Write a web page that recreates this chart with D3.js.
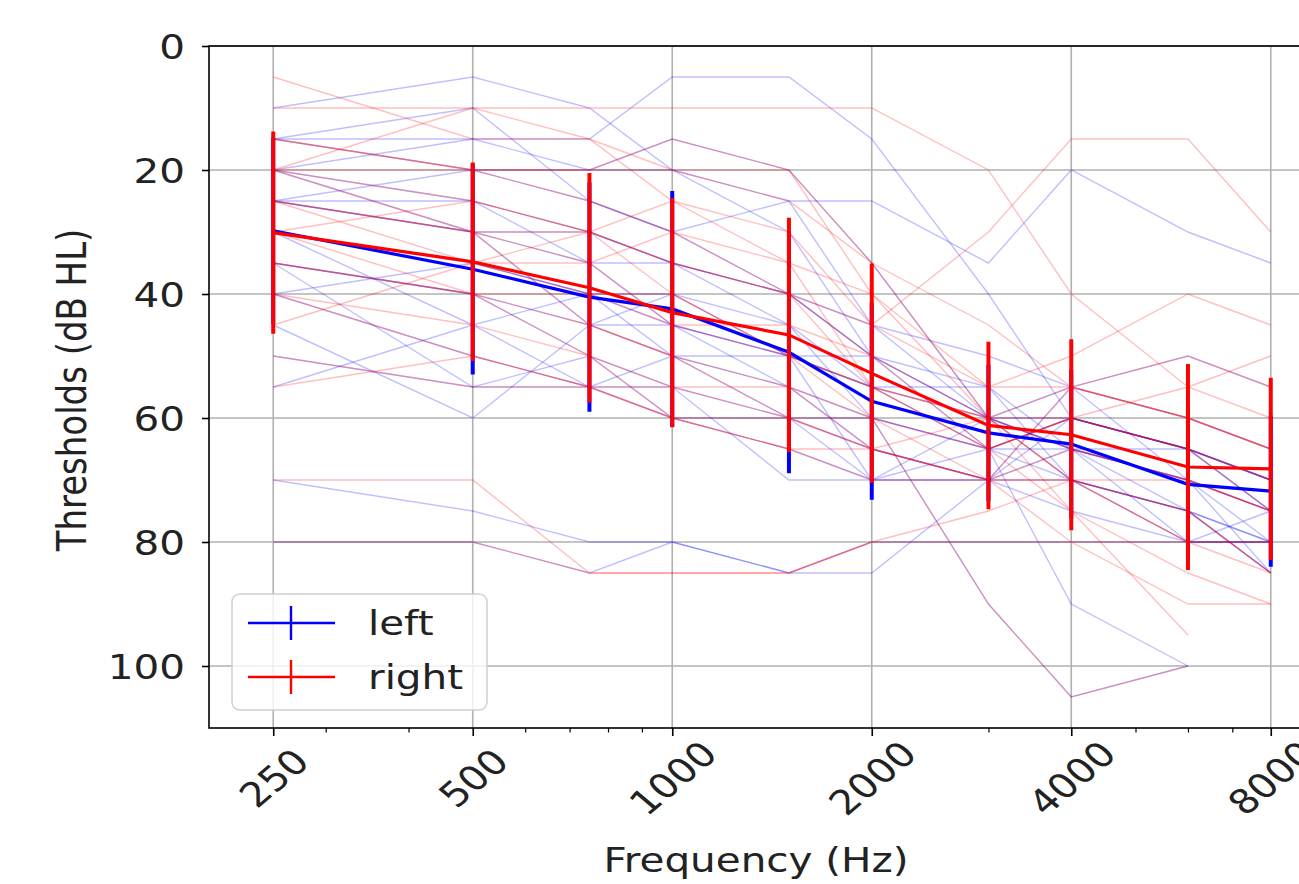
<!DOCTYPE html>
<html>
<head>
<meta charset="utf-8">
<script src="https://cdn.jsdelivr.net/npm/d3@7"></script>
<style>
  body { margin: 0; background: #fff; }
  text { font-family: "DejaVu Sans", sans-serif; fill: #222; }
</style>
</head>
<body>
<div id="chart"></div>
<script>
// audiogram: thresholds per subject, left and right ear
var freqs = [250, 500, 750, 1000, 1500, 2000, 3000, 4000, 6000, 8000];
var tickFreqs = [250, 500, 1000, 2000, 4000, 8000];
var minorFreqs = [300, 400, 600, 700, 800, 900, 3000, 5000, 6000, 7000, 9000];
var dbTicks = [0, 20, 40, 60, 80, 100];

var leftSubjects = [
  [15, 20, 20, 15, 20, 35, 60, 70, 75, 85],
  [25, 30, 35, 45, 50, 55, 60, 55, 60, 65],
  [35, 40, 50, 60, 60, 65, 70, 65, 70, 75],
  [50, 55, 55, 60, 65, 70, 70, 70, 80, 80],
  [80, 80, 85, 80, 85, 80, 80, 80, 80, 80],
  [40, 50, 55, 55, 60, 60, 90, 105, 100, null],
  [30, 35, 40, 40, 50, 55, 65, 60, 65, 70],
  [20, 30, 45, 50, 55, 65, 70, 55, 50, 55],
  [25, 30, 30, 35, 40, 50, 65, 60, 65, 75],
  [10, 5, 10, 20, 25, 25, 35, 20, 30, 35],
  [20, 15, 15, 5, 5, 15, 40, 60, 65, 75],
  [25, 25, 30, 35, 40, 45, 50, 55, 70, 80],
  [30, 45, 55, 50, 60, 70, 65, 70, 75, 85],
  [35, 55, 50, 55, 70, 70, 60, 60, 65, 70],
  [45, 60, 45, 40, 45, 55, 55, 65, 70, 85],
  [55, 45, 40, 45, 55, 60, 65, 90, 100, null],
  [70, 75, 80, 80, 85, 85, 70, 60, 65, 70],
  [20, 25, 35, 35, 45, 60, 65, 65, 75, 80],
  [40, 35, 40, 50, 50, 70, 70, 75, 80, 75],
  [15, 10, 25, 30, 40, 50, 55, 70, 75, 80],
  [35, 40, 45, 45, 50, 50, 60, 65, 80, 80],
  [15, 15, 20, 20, 30, 50, 60, 65, 70, 75],
  [25, 20, 25, 30, 25, 45, 60, 65, 65, 70]
];

var rightSubjects = [
  [15, 20, 20, 15, 20, 35, 60, 70, 75, 85],
  [25, 30, 35, 45, 50, 55, 60, 55, 60, 65],
  [35, 40, 50, 60, 60, 65, 70, 65, 70, 75],
  [50, 55, 55, 60, 65, 70, 70, 70, 80, 80],
  [80, 80, 85, 85, 85, 80, 80, 80, 80, 80],
  [40, 50, 55, 55, 60, 60, 90, 105, 100, null],
  [30, 35, 40, 40, 50, 55, 65, 60, 65, 70],
  [20, 30, 45, 50, 55, 65, 70, 55, 50, 55],
  [25, 30, 30, 35, 40, 50, 65, 60, 65, 75],
  [5, 15, 15, 20, 25, 35, 45, 55, 60, 65],
  [10, 10, 10, 10, 10, 10, 20, 40, 55, 60],
  [20, 10, 15, 25, 30, 45, 30, 15, 15, 30],
  [20, 25, 30, 35, 40, 45, 55, 50, 40, 45],
  [25, 35, 35, 30, 35, 40, 55, 55, 60, 65],
  [30, 40, 40, 45, 45, 50, 60, 65, 70, 75],
  [45, 35, 30, 40, 50, 60, 65, 75, 85, 90],
  [40, 45, 50, 55, 55, 60, 70, 70, 75, 85],
  [55, 50, 55, 60, 65, 65, 70, 80, 90, 90],
  [70, 70, 85, 85, 85, 80, 75, 70, 80, 85],
  [35, 40, 45, 50, 60, 65, 60, 75, 95, null],
  [15, 20, 25, 30, 40, 55, 65, 60, 55, 50],
  [20, 20, 20, 20, 20, 40, 60, 60, 65, 70],
  [30, 25, 30, 25, 35, 55, 60, 70, 70, 75]
];

var leftMean = [29.8, 36, 40.5, 42.4, 49.4, 57.3, 62.4, 64.2, 70.7, 71.8];
var leftSd = [15, 17, 18.5, 19, 19.5, 15.9, 11, 12, 12.5, 12.2];
var rightMean = [30.1, 34.8, 39, 43, 46.6, 52.8, 61.2, 62.7, 67.9, 68.2];
var rightSd = [16.3, 16, 18.5, 18.5, 18.9, 17.7, 13.5, 15.4, 16.6, 14.7];

var ears = ["left", "right"];
var earColors = ["#0000ff", "#ff0000"];

var W = 1299, H = 884;
var plotLeft = 209, plotTop = 46, plotRight = 1335, plotBottom = 728;
var sx = "scale(1.19,1)";

var svg = d3.select("#chart").append("svg")
  .attr("width", W)
  .attr("height", H);

var x = d3.scaleLog().domain([200, 10000]).range([plotLeft, plotRight]);
var y = d3.scaleLinear().domain([0, 110]).range([plotTop, plotBottom]);

svg.append("clipPath").attr("id", "plotclip")
  .append("rect")
  .attr("x", plotLeft).attr("y", plotTop)
  .attr("width", plotRight - plotLeft).attr("height", plotBottom - plotTop);

// grid
var grid = svg.append("g").attr("stroke", "#b0b0b0").attr("stroke-width", 1.6);
grid.selectAll("line.vx").data(tickFreqs).enter().append("line")
  .attr("x1", function (d) { return x(d); })
  .attr("x2", function (d) { return x(d); })
  .attr("y1", plotTop).attr("y2", plotBottom);
grid.selectAll("line.hy").data(dbTicks).enter().append("line")
  .attr("x1", plotLeft).attr("x2", plotRight)
  .attr("y1", function (d) { return y(d); })
  .attr("y2", function (d) { return y(d); });

var plot = svg.append("g").attr("clip-path", "url(#plotclip)");

var line = d3.line()
  .defined(function (d) { return d != null; })
  .x(function (d, i) { return x(freqs[i]); })
  .y(function (d) { return y(d); });

// individual subjects
[leftSubjects, rightSubjects].forEach(function (subjects, k) {
  plot.append("g")
    .selectAll("path")
    .data(subjects)
    .enter().append("path")
    .attr("d", line)
    .attr("fill", "none")
    .attr("stroke", earColors[k])
    .attr("stroke-opacity", 0.25)
    .attr("stroke-width", 1.4);
});

// means with std error bars
[[leftMean, leftSd], [rightMean, rightSd]].forEach(function (ms, k) {
  var g = plot.append("g");
  g.selectAll("line")
    .data(ms[0])
    .enter().append("line")
    .attr("x1", function (d, i) { return x(freqs[i]); })
    .attr("x2", function (d, i) { return x(freqs[i]); })
    .attr("y1", function (d, i) { return y(d - ms[1][i]); })
    .attr("y2", function (d, i) { return y(d + ms[1][i]); })
    .attr("stroke", earColors[k])
    .attr("stroke-width", 4);
  g.append("path")
    .attr("d", line(ms[0]))
    .attr("fill", "none")
    .attr("stroke", earColors[k])
    .attr("stroke-width", 3.2);
});

// axes
var yAxis = svg.append("g")
  .attr("transform", "translate(" + plotLeft + ",0)")
  .call(d3.axisLeft(y).tickValues(dbTicks).tickSize(7).tickFormat(d3.format("d")));
yAxis.select(".domain").remove();
yAxis.selectAll(".tick line").attr("stroke", "#000").attr("stroke-width", 1.6);
yAxis.selectAll("text")
  .attr("x", null).attr("dy", "0.36em")
  .attr("transform", "translate(-24,0) " + sx)
  .style("font-size", "34px")
  .attr("fill", "#222");

var xAxis = svg.append("g")
  .attr("transform", "translate(0," + plotBottom + ")")
  .call(d3.axisBottom(x).tickValues(tickFreqs).tickSize(8).tickFormat(d3.format("d")));
xAxis.select(".domain").remove();
xAxis.selectAll(".tick line").attr("stroke", "#000").attr("stroke-width", 1.6);
xAxis.selectAll("text")
  .attr("y", null).attr("dy", "0.36em")
  .attr("text-anchor", "middle")
  .attr("transform", "translate(0,50) " + sx + " rotate(-45)")
  .style("font-size", "34px")
  .attr("fill", "#222");

var xMinor = svg.append("g")
  .attr("transform", "translate(0," + plotBottom + ")")
  .call(d3.axisBottom(x).tickValues(minorFreqs).tickSize(4.5).tickFormat(""));
xMinor.select(".domain").remove();
xMinor.selectAll(".tick line").attr("stroke", "#000").attr("stroke-width", 1.2);

// frame
svg.append("rect")
  .attr("x", plotLeft).attr("y", plotTop)
  .attr("width", plotRight - plotLeft).attr("height", plotBottom - plotTop)
  .attr("fill", "none")
  .attr("stroke", "#000")
  .attr("stroke-width", 1.6);

// axis labels
svg.append("text")
  .attr("transform", "translate(756,872) " + sx)
  .attr("text-anchor", "middle")
  .style("font-size", "34px")
  .text("Frequency (Hz)");

svg.append("text")
  .attr("transform", "translate(86,390) " + sx + " rotate(-90)")
  .attr("text-anchor", "middle")
  .style("font-size", "34px")
  .text("Thresholds (dB HL)");

// legend
var legend = svg.append("g");
legend.append("rect")
  .attr("x", 232).attr("y", 594)
  .attr("width", 255).attr("height", 116)
  .attr("rx", 8)
  .attr("fill", "#fff").attr("fill-opacity", 0.8)
  .attr("stroke", "#d0d0d0").attr("stroke-width", 1.5);

var items = legend.selectAll("g.item")
  .data(ears)
  .enter().append("g")
  .attr("transform", function (d, i) { return "translate(0," + (623 + i * 54) + ")"; });
items.append("line")
  .attr("x1", 248).attr("x2", 335).attr("y1", 0).attr("y2", 0)
  .attr("stroke", function (d, i) { return earColors[i]; })
  .attr("stroke-width", 2.4);
items.append("line")
  .attr("x1", 291).attr("x2", 291).attr("y1", -17).attr("y2", 17)
  .attr("stroke", function (d, i) { return earColors[i]; })
  .attr("stroke-width", 2.4);
items.append("text")
  .attr("transform", "translate(368,0) " + sx)
  .attr("dy", "0.36em")
  .style("font-size", "34px")
  .text(function (d) { return d; });
</script>
</body>
</html>
